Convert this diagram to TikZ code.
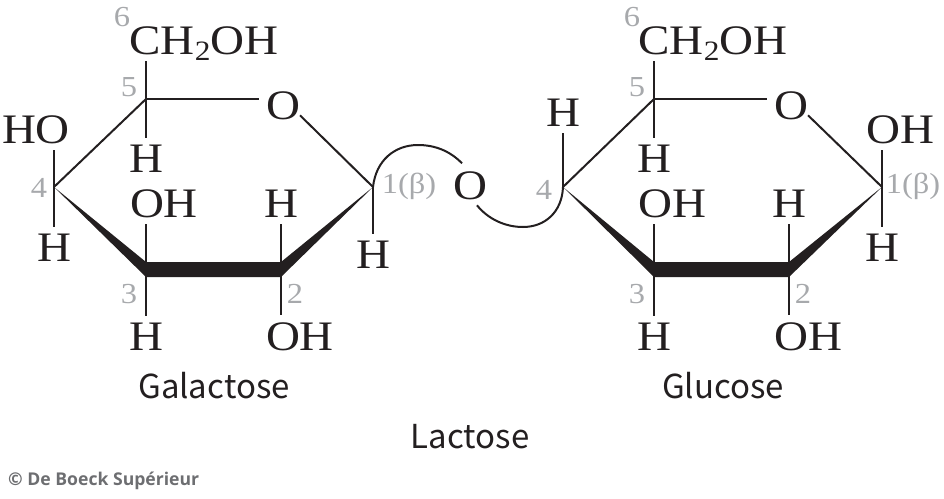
\documentclass[tikz,border=0pt]{standalone}
\usepackage{fontspec}
\setmainfont[FakeStretch=1.12]{Liberation Serif}
\newfontfamily\capfont{Noto Sans CJK SC}
\newfontfamily\credfont{Open Sans}
\usetikzlibrary{calc}
\definecolor{ink}{HTML}{231F20}
\definecolor{numgrey}{HTML}{A7A9AC}
\definecolor{credgrey}{HTML}{6D6E71}
\tikzset{
  atom/.style={inner sep=0pt,outer sep=7pt,anchor=base,text=ink,font=\fontsize{42}{42}\selectfont},
  num/.style={inner sep=0pt,text=numgrey,font=\fontsize{29}{29}\selectfont},
  captext/.style={inner sep=0pt,anchor=base,text=ink,font=\capfont\fontsize{33}{33}\selectfont},
  bond/.style={draw=ink,line width=2pt},
  wedgeshape/.style={fill=ink,draw=none},
}
\newcommand{\chtwo}{CH\smash{\raisebox{-6pt}{\fontsize{28}{28}\selectfont 2}}OH}
\begin{document}
\begin{tikzpicture}[x=1pt,y=-1pt]
\useasboundingbox (0,0) rectangle (944,498);
% ---- ring atoms
\coordinate (ac1) at (373,187);
\coordinate (ac2) at (281,269);
\coordinate (ac3) at (146,269);
\coordinate (ac4) at (54,187);
\coordinate (ac5) at (146,99);
\coordinate (bc1) at (882,187);
\coordinate (bc2) at (789,269);
\coordinate (bc3) at (654,269);
\coordinate (bc4) at (563,187);
\coordinate (bc5) at (654,99);
% ---- labels, galactose
\node[atom] (ach) at (204,54) {\chtwo};
\node[atom] (ao) at (283,119) {O};
\node[atom] (aho) at (36,143) {HO};
\node[atom] (ah5) at (146,172) {H};
\node[atom] (aoh3) at (164,217) {OH};
\node[atom] (ah2) at (281,217) {H};
\node[atom] (ah4) at (54,261) {H};
\node[atom] (ah1) at (373,268) {H};
\node[atom] (ah3) at (146,350) {H};
\node[atom] (aoh2) at (300,350) {OH};
\node[atom] (bo) at (470,199) {O};
% ---- labels, glucose
\node[atom] (bch) at (713,54) {\chtwo};
\node[atom] (bor) at (791,119) {O};
\node[atom] (bh4) at (563,126) {H};
\node[atom] (boh1) at (900,143) {OH};
\node[atom] (bh5) at (654,172) {H};
\node[atom] (boh3) at (672,217) {OH};
\node[atom] (bh2) at (789,217) {H};
\node[atom] (bh1) at (882,261) {H};
\node[atom] (bh3) at (654,350) {H};
\node[atom] (boh2) at (808,350) {OH};
% ---- wedges
\fill[wedgeshape] (ac4) -- (146,262) -- (281,262) -- (ac1) -- (281,277) -- (146,277) -- cycle;
\fill[wedgeshape] (bc4) -- (654,262) -- (789,262) -- (bc1) -- (789,277) -- (654,277) -- cycle;
% ---- bonds, galactose
\draw[bond] (ac4) -- (ac5);
\draw[bond] (ac5) -- (ao.west |- ac5);
\draw[bond] ($(ao.center)+(17,10)$) -- (ac1);
\draw[bond] (ac5) -- (ac5 |- ach.south);
\draw[bond] (ac5) -- (ah5.north);
\draw[bond] (ac4) -- (aho.south -| ac4);
\draw[bond] (ac4) -- (ah4.north);
\draw[bond] (ac3) -- (ac3 |- aoh3.south);
\draw[bond] (ac3) -- (ah3.north);
\draw[bond] (ac2) -- (ah2.south);
\draw[bond] (ac2) -- (ac2 |- aoh2.north);
\draw[bond] (ac1) -- (ac1 |- ah1.north);
% ---- bonds, glucose
\draw[bond] (bc4) -- (bc5);
\draw[bond] (bc5) -- (bor.west |- bc5);
\draw[bond] ($(bor.center)+(17,10)$) -- (bc1);
\draw[bond] (bc5) -- (bc5 |- bch.south);
\draw[bond] (bc5) -- (bh5.north);
\draw[bond] (bc4) -- (bh4.south);
\draw[bond] (bc3) -- (bc3 |- boh3.south);
\draw[bond] (bc3) -- (bh3.north);
\draw[bond] (bc2) -- (bh2.south);
\draw[bond] (bc2) -- (bc2 |- boh2.north);
\draw[bond] (bc1) -- (bc1 |- boh1.south);
\draw[bond] (bc1) -- (bh1.north);
% ---- glycosidic link
\draw[bond] (ac1) .. controls (376,160) and (395,145) .. (418,145)
  .. controls (435,145) and (450,151) .. ($(bo.center)+(-8,-22)$);
\draw[bond] ($(bo.center)+(7,20)$) .. controls (488,219) and (505,227) .. (523,227)
  .. controls (545,227) and (562,212) .. (bc4);
% ---- carbon numbers
\node[num] (an6) at (122,17) {6};
\node[num] (an5) at (129,87) {5};
\node[num] (an4) at (39,188) {4};
\node[num] (an1) at (409,186) {1(β)};
\node[num] (an3) at (129,294) {3};
\node[num] (an2) at (295,294) {2};
\node[num] (bn6) at (632,17) {6};
\node[num] (bn5) at (637,87) {5};
\node[num] (bn4) at (544,190) {4};
\node[num] (bn1) at (913,186) {1(β)};
\node[num] (bn3) at (637,294) {3};
\node[num] (bn2) at (803,294) {2};
% ---- captions
\node[captext] (galac) at (214,398) {Galactose};
\node[captext] (gluc) at (723,398) {Glucose};
\node[captext] (lact) at (470,448) {Lactose};
\node[inner sep=0pt,anchor=base west,text=credgrey,font=\credfont\bfseries\fontsize{17.6}{17.6}\selectfont] (cred) at (8,485) {© De Boeck Supérieur};
\end{tikzpicture}
\end{document}
